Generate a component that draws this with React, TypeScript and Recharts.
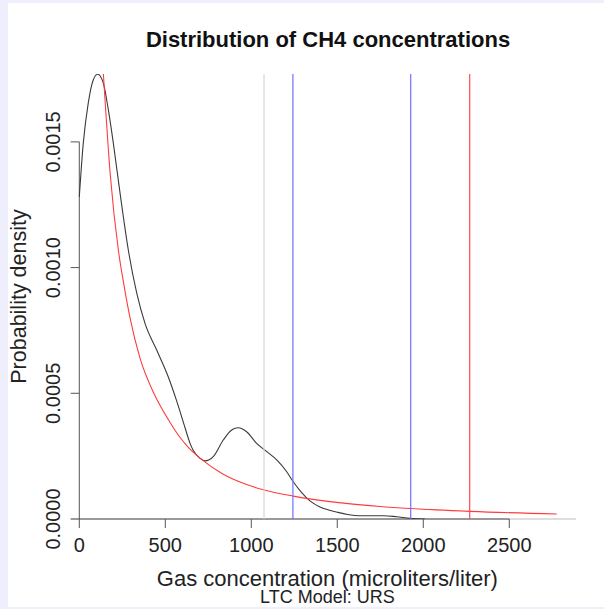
import React from 'react';
import { LineChart, Line, XAxis, YAxis, ReferenceLine } from 'recharts';

// Kernel density estimate (black curve)
const densityX = [0, 23, 52, 81, 107, 140, 169, 198, 237, 285, 334, 382, 450, 517, 566, 614, 644, 663, 702, 731, 779, 837, 886, 924, 973, 1031, 1090, 1148, 1206, 1244, 1293, 1341, 1399, 1450, 1500, 1560, 1630, 1700, 1770, 1845, 1923, 2010];
const densityY = [0.001282, 0.001494, 0.001654, 0.001746, 0.001769, 0.001733, 0.001627, 0.001494, 0.001296, 0.00107, 0.000898, 0.000778, 0.000672, 0.000566, 0.00047, 0.000365, 0.000301, 0.000272, 0.000241, 0.000231, 0.000248, 0.000314, 0.000354, 0.000363, 0.000347, 0.000301, 0.000268, 0.000235, 0.000188, 0.000148, 0.000105, 0.000072, 0.000048, 0.000036, 0.000027, 0.000018, 0.000013, 0.000013, 0.000013, 0.000009, 0.000003, 0];

// Fitted distribution (red curve)
const fitX = [140, 180, 227, 256, 295, 353, 430, 527, 585, 634, 702, 837, 973, 1070, 1244, 1360, 1550, 1748, 1923, 2272, 2776];
const fitY = [0.00177, 0.00137, 0.00107, 0.000945, 0.0008, 0.00064, 0.000505, 0.000385, 0.000325, 0.000285, 0.000242, 0.000178, 0.000137, 0.000116, 0.000091, 0.000078, 0.000062, 0.00005, 0.000042, 0.0000305, 0.00002];

// Vertical reference values: grey, blue, blue, red
const thresholds = [1074, 1242, 1927, 2270];

const xTicks = [0, 500, 1000, 1500, 2000, 2500];
const yTicks = [0, 0.0005, 0.001, 0.0015];
const yTickLabels = ['0.0000', '0.0005', '0.0010', '0.0015'];

const xDomain: [number, number] = [-50, 2888];
const yDomain: [number, number] = [0, 0.00177];

const titleText = 'Distribution of CH4 concentrations';
const xLabelText = 'Gas concentration (microliters/liter)';
const subLabelText = 'LTC Model: URS';
const yLabelText = 'Probability density';

const FONT = '"Liberation Sans", Arial, Helvetica, sans-serif';
const AXIS = '#555555';

const density = densityX.map((x, i) => ({ x, y: densityY[i] }));
const fit = fitX.map((x, i) => ({ x, y: fitY[i] }));

const YTick = (props: any) => {
  const { x, y, index } = props;
  return (
    <text
      x={x}
      y={y}
      transform={`rotate(-90 ${x} ${y})`}
      textAnchor="middle"
      fontFamily={FONT}
      fontSize={20}
      fill="#222"
    >
      {yTickLabels[index]}
    </text>
  );
};

const XLabel = (props: any) => {
  const vb = props.viewBox || {};
  const cx = vb.x + vb.width / 2 + 4;
  const top = vb.y;
  return (
    <g>
      <text x={cx} y={top + 66.5} textAnchor="middle" fontFamily={FONT} fontSize={22} fill="#222">
        {xLabelText}
      </text>
      <text x={cx} y={top + 83.5} textAnchor="middle" fontFamily={FONT} fontSize={18} fill="#222">
        {subLabelText}
      </text>
    </g>
  );
};

const YLabel = (props: any) => {
  const vb = props.viewBox || {};
  const cy = vb.y + vb.height / 2;
  const bx = 18;
  return (
    <text
      x={bx}
      y={cy}
      transform={`rotate(-90 ${bx} ${cy})`}
      textAnchor="middle"
      fontFamily={FONT}
      fontSize={21.5}
      fill="#222"
    >
      {yLabelText}
    </text>
  );
};

export default function App() {
  return (
    <div style={{ position: 'fixed', left: 0, top: 0, width: 604, height: 609, background: '#eeeefc' }}>
      <div style={{ position: 'absolute', left: 8, top: 3, width: 596, height: 604, background: '#ffffff' }}>
        <svg width={596} height={60} style={{ position: 'absolute', left: 0, top: 0 }}>
          <text x={320} y={44} textAnchor="middle" fontFamily={FONT} fontSize={22} fontWeight="bold" fill="#111">
            {titleText}
          </text>
        </svg>
        <div style={{ position: 'absolute', left: 0, top: 0 }}>
          <LineChart width={596} height={604} margin={{ top: 71, right: 28, bottom: 0, left: 0 }}>
            <XAxis
              type="number"
              dataKey="x"
              domain={xDomain}
              ticks={xTicks}
              allowDataOverflow
              axisLine={false}
              tickLine={{ stroke: AXIS }}
              tickSize={9}
              tickMargin={10}
              height={88}
              tick={{ fontFamily: FONT, fontSize: 20, fill: '#222' }}
              label={<XLabel />}
            />
            <YAxis
              type="number"
              dataKey="y"
              domain={yDomain}
              ticks={yTicks}
              allowDataOverflow
              axisLine={false}
              tickLine={false}
              tickSize={0}
              tickMargin={11}
              width={62.7}
              tick={<YTick />}
              label={<YLabel />}
            />
            <ReferenceLine y={0} stroke="#bdbdbd" strokeWidth={1} />
            <ReferenceLine segment={[{ x: xTicks[0], y: 0 }, { x: xTicks[xTicks.length - 1], y: 0 }]} stroke={AXIS} strokeWidth={1} />
            <ReferenceLine segment={[{ x: 0, y: yTicks[0] }, { x: 0, y: yTicks[yTicks.length - 1] }]} stroke={AXIS} strokeWidth={1} />
            {yTicks.map((v) => (
              <ReferenceLine key={'yt' + v} segment={[{ x: xDomain[0], y: v }, { x: 0, y: v }]} stroke={AXIS} strokeWidth={1} />
            ))}
            <Line data={density} dataKey="y" type="monotone" stroke="#3a3a3a" strokeWidth={1.1} dot={false} isAnimationActive={false} />
            <Line data={fit} dataKey="y" type="monotone" stroke="#ff3b3b" strokeWidth={1.1} dot={false} isAnimationActive={false} />
            <ReferenceLine x={thresholds[0]} stroke="#d6d6d6" strokeWidth={1.2} />
            <ReferenceLine x={thresholds[1]} stroke="#6f6fff" strokeWidth={1.2} />
            <ReferenceLine x={thresholds[2]} stroke="#6f6fff" strokeWidth={1.2} />
            <ReferenceLine x={thresholds[3]} stroke="#ff4a4a" strokeWidth={1.2} />
          </LineChart>
        </div>
      </div>
    </div>
  );
}
